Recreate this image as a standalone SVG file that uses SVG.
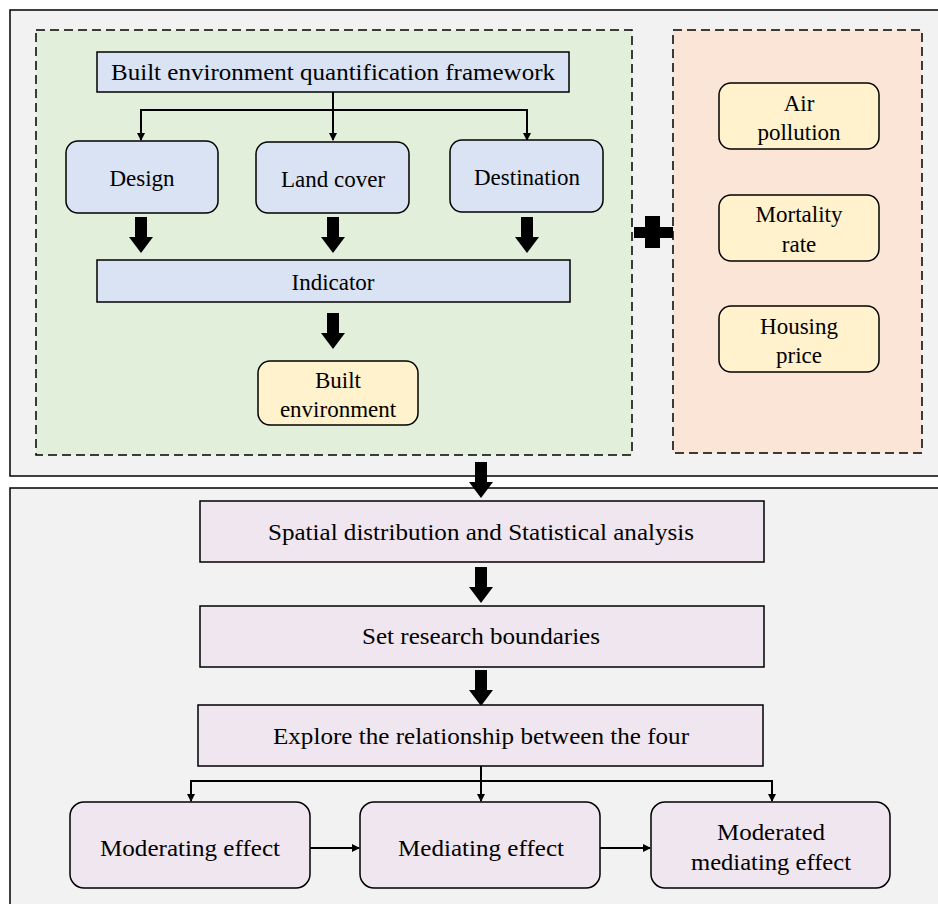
<svg xmlns="http://www.w3.org/2000/svg" width="938" height="904" viewBox="0 0 938 904">
<style>
.panel{fill:#f2f2f2;stroke:#000;stroke-width:1.5}
.dash{stroke:#000;stroke-width:1.5;stroke-dasharray:9 5}
.blue{fill:#dae3f3;stroke:#000;stroke-width:1.5}
.yel{fill:#fff2cc;stroke:#000;stroke-width:1.5}
.pink{fill:#f0e6ef;stroke:#000;stroke-width:1.5}
text{font-family:"Liberation Serif","DejaVu Serif","Times New Roman",serif;font-size:23px;fill:#000;text-anchor:middle}
.ln{fill:none;stroke:#000;stroke-width:2}
.big{fill:#000}
</style>
<defs>
<marker id="ah" markerWidth="8" markerHeight="8" refX="7" refY="4" orient="auto" markerUnits="userSpaceOnUse">
<path d="M0,0 L8,4 L0,8 Z" fill="#000"/>
</marker>
<path id="bigarrow" d="M-6,0 H6 V20 H12 L0,36 L-12,20 H-6 Z"/>
</defs>
<rect width="938" height="904" fill="#fff"/>
<rect class="panel" x="10" y="10" width="940" height="466"/>
<rect class="panel" x="10" y="488" width="940" height="430"/>
<rect class="dash" x="36" y="30" width="596" height="425" fill="#e2efda"/>
<rect class="dash" x="673" y="30" width="249" height="423" fill="#fbe5d6"/>

<g id="connectors">
<path class="ln" d="M333,92 V110"/>
<path class="ln" d="M141,140 V110 H527 V140" marker-end="url(#ah)"/>
<path class="ln" d="M141,110 V140" marker-end="url(#ah)"/>
<path class="ln" d="M333,110 V140" marker-end="url(#ah)"/>
<use href="#bigarrow" class="big" x="141" y="217"/>
<use href="#bigarrow" class="big" x="333" y="217"/>
<use href="#bigarrow" class="big" x="527" y="217"/>
<use href="#bigarrow" class="big" x="333" y="313"/>
<path class="big" d="M634,227 H645 V216 H660 V227 H673 V238 H660 V248 H645 V238 H634 Z"/>
<use href="#bigarrow" class="big" x="481" y="462"/>
<use href="#bigarrow" class="big" x="481" y="567"/>
<use href="#bigarrow" class="big" x="481" y="670"/>
<path class="ln" d="M481,766 V781"/>
<path class="ln" d="M191,801 V781 H772 V801" marker-end="url(#ah)"/>
<path class="ln" d="M191,781 V801" marker-end="url(#ah)"/>
<path class="ln" d="M481,781 V801" marker-end="url(#ah)"/>
<path class="ln" d="M310,848 H359" marker-end="url(#ah)"/>
<path class="ln" d="M600,848 H650" marker-end="url(#ah)"/>
</g>

<g id="framework"><rect class="blue" x="97" y="52" width="472" height="40"/><text x="333" y="80" textLength="444" lengthAdjust="spacingAndGlyphs">Built environment quantification framework</text></g>
<g id="design"><rect class="blue" x="66" y="141" width="152" height="72" rx="12"/><text x="142" y="186">Design</text></g>
<g id="landcover"><rect class="blue" x="256" y="142" width="153" height="71" rx="12"/><text x="333" y="187">Land cover</text></g>
<g id="destination"><rect class="blue" x="450" y="140" width="153" height="72" rx="12"/><text x="527" y="185">Destination</text></g>
<g id="indicator"><rect class="blue" x="97" y="260" width="473" height="42"/><text x="333" y="290">Indicator</text></g>
<g id="builtenv"><rect class="yel" x="258" y="361" width="160" height="64" rx="12"/><text x="338" y="388">Built</text><text x="338" y="417">environment</text></g>
<g id="air"><rect class="yel" x="719" y="83" width="160" height="66" rx="12"/><text x="799" y="111">Air</text><text x="799" y="140">pollution</text></g>
<g id="mortality"><rect class="yel" x="719" y="195" width="160" height="66" rx="12"/><text x="799" y="222">Mortality</text><text x="799" y="252">rate</text></g>
<g id="housing"><rect class="yel" x="719" y="306" width="160" height="66" rx="12"/><text x="799" y="334">Housing</text><text x="799" y="363">price</text></g>
<g id="spatial"><rect class="pink" x="200" y="501" width="564" height="61"/><text x="481" y="540" textLength="426" lengthAdjust="spacingAndGlyphs">Spatial distribution and Statistical analysis</text></g>
<g id="boundaries"><rect class="pink" x="200" y="606" width="564" height="61"/><text x="481" y="644" textLength="238" lengthAdjust="spacingAndGlyphs">Set research boundaries</text></g>
<g id="explore"><rect class="pink" x="198" y="705" width="565" height="61"/><text x="481" y="744" textLength="416" lengthAdjust="spacingAndGlyphs">Explore the relationship between the four</text></g>
<g id="moderating"><rect class="pink" x="70" y="802" width="240" height="86" rx="14"/><text x="190" y="856" textLength="180" lengthAdjust="spacingAndGlyphs">Moderating effect</text></g>
<g id="mediating"><rect class="pink" x="360" y="802" width="240" height="86" rx="14"/><text x="481" y="856" textLength="166" lengthAdjust="spacingAndGlyphs">Mediating effect</text></g>
<g id="moderated"><rect class="pink" x="651" y="802" width="239" height="86" rx="14"/><text x="771" y="840" textLength="108" lengthAdjust="spacingAndGlyphs">Moderated</text><text x="771" y="870" textLength="160" lengthAdjust="spacingAndGlyphs">mediating effect</text></g>
</svg>
